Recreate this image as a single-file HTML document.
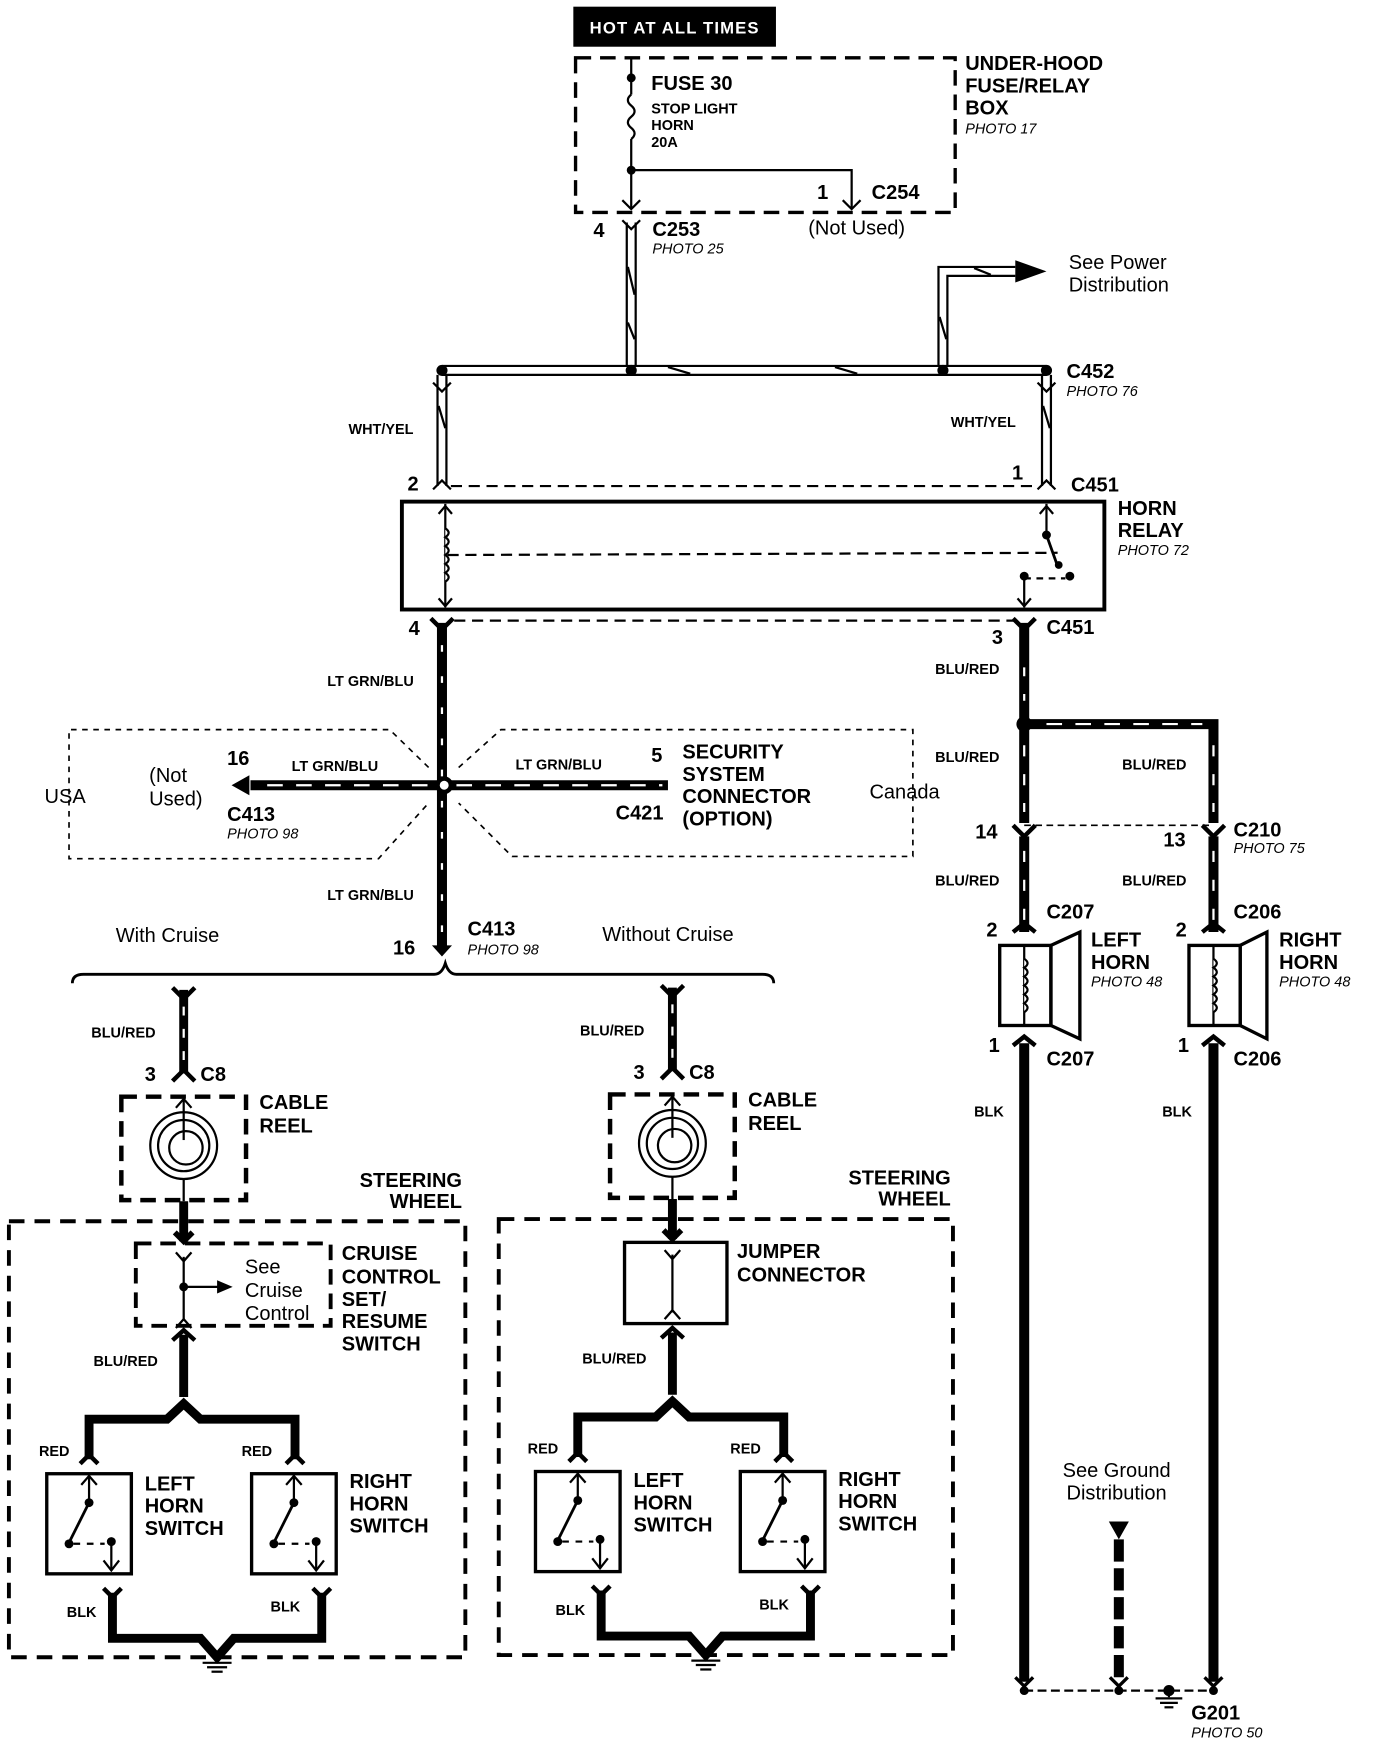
<!DOCTYPE html>
<html><head><meta charset="utf-8"><style>
html,body{margin:0;padding:0;background:#fff}
svg{display:block}
text{font-family:"Liberation Sans",Arial,sans-serif;fill:#000}
.b{font-weight:bold}
.i{font-style:italic;font-size:13px}
.s{font-weight:bold;font-size:13px}
.L{font-weight:bold;font-size:18px}
.n{font-size:18px}
</style></head><body>
<svg width="1376" height="1744" viewBox="0 0 1236 1568" preserveAspectRatio="none" xmlns="http://www.w3.org/2000/svg">
<defs>
<g id="sw">
  <rect x="0" y="0" width="76" height="90" fill="none" stroke="#000" stroke-width="3"/>
  <line x1="38" y1="0" x2="38" y2="26" stroke="#000" stroke-width="2"/>
  <path d="M31,10 L38,2 L45,10" fill="none" stroke="#000" stroke-width="2"/>
  <circle cx="38" cy="26" r="4"/>
  <line x1="38" y1="26" x2="20" y2="62" stroke="#000" stroke-width="2.5"/>
  <circle cx="20" cy="63" r="4"/>
  <line x1="24" y1="63" x2="52" y2="63" stroke="#000" stroke-width="2" stroke-dasharray="6,6"/>
  <circle cx="58" cy="61" r="4"/>
  <line x1="58" y1="61" x2="58" y2="87" stroke="#000" stroke-width="2"/>
  <path d="M51,78 L58,87 L65,78" fill="none" stroke="#000" stroke-width="2"/>
</g>
<g id="sub">
  <line x1="165" y1="890" x2="165" y2="965" stroke="#000" stroke-width="8"/>
  <line x1="165" y1="905" x2="165" y2="955" stroke="#fff" stroke-width="2" stroke-dasharray="8,12"/>
  <path d="M155,888 L165,898 L175,888" fill="none" stroke="#000" stroke-width="4"/>
  <path d="M155,972 L165,962 L175,972" fill="none" stroke="#000" stroke-width="4"/>
  <text x="82" y="933" class="s">BLU/RED</text>
  <text x="130" y="972" class="L">3</text>
  <text x="180" y="972" class="L">C8</text>
  <rect x="109" y="986" width="112" height="93" fill="none" stroke="#000" stroke-width="4" stroke-dasharray="14,8"/>
  <line x1="165" y1="986" x2="165" y2="1025" stroke="#000" stroke-width="2"/>
  <path d="M158,996 L165,988 L172,996" fill="none" stroke="#000" stroke-width="2"/>
  <circle cx="165" cy="1030" r="30" fill="none" stroke="#000" stroke-width="2"/>
  <circle cx="165" cy="1030" r="23" fill="none" stroke="#000" stroke-width="2"/>
  <circle cx="167" cy="1032" r="15" fill="none" stroke="#000" stroke-width="2"/>
  <line x1="165" y1="1060" x2="165" y2="1080" stroke="#000" stroke-width="2"/>
  <text x="233" y="997" class="L">CABLE</text>
  <text x="233" y="1018" class="L">REEL</text>
  <line x1="165" y1="1080" x2="165" y2="1116" stroke="#000" stroke-width="8"/>
  <path d="M157,1108 L165,1116 L173,1108" fill="none" stroke="#000" stroke-width="5"/>
  <line x1="165" y1="1200" x2="165" y2="1256" stroke="#000" stroke-width="8"/>
  <path d="M155,1205 L165,1196 L175,1205" fill="none" stroke="#000" stroke-width="4"/>
  <text x="84" y="1228" class="s">BLU/RED</text>
  <path d="M80,1312 L80,1276 L150,1276 L165,1262 L180,1276 L265,1276 L265,1312" fill="none" stroke="#000" stroke-width="8"/>
  <path d="M72,1316 L80,1308 L88,1316" fill="none" stroke="#000" stroke-width="4"/>
  <path d="M257,1316 L265,1308 L273,1316" fill="none" stroke="#000" stroke-width="4"/>
  <text x="35" y="1309" class="s">RED</text>
  <text x="217" y="1309" class="s">RED</text>
  <use href="#sw" x="42" y="1325"/>
  <use href="#sw" x="226" y="1325"/>
  <path d="M101,1432 L101,1473 L180,1473 L195,1490 L210,1473 L289,1473 L289,1432" fill="none" stroke="#000" stroke-width="8"/>
  <path d="M93,1428 L101,1436 L109,1428" fill="none" stroke="#000" stroke-width="4"/>
  <path d="M281,1428 L289,1436 L297,1428" fill="none" stroke="#000" stroke-width="4"/>
  <text x="60" y="1454" class="s">BLK</text>
  <text x="243" y="1449" class="s">BLK</text>
  <line x1="182" y1="1495" x2="208" y2="1495" stroke="#000" stroke-width="2"/>
  <line x1="186" y1="1499" x2="204" y2="1499" stroke="#000" stroke-width="2"/>
  <line x1="190" y1="1503" x2="200" y2="1503" stroke="#000" stroke-width="2"/>
</g>
</defs>

<rect x="515" y="6" width="182" height="36" fill="#000"/>
<text x="606" y="30" text-anchor="middle" class="b" style="fill:#fff;font-size:15px;letter-spacing:1px">HOT AT ALL TIMES</text>
<rect x="517" y="52" width="341" height="139" fill="none" stroke="#000" stroke-width="3" stroke-dasharray="14,8"/>
<line x1="567" y1="52" x2="567" y2="85" stroke="#000" stroke-width="2"/>
<circle cx="567" cy="70" r="4"/>
<path d="M567,85 q-6,5 0,10 q6,5 0,10 q-6,5 0,10 q6,5 0,10" fill="none" stroke="#000" stroke-width="2"/>
<line x1="567" y1="125" x2="567" y2="188" stroke="#000" stroke-width="2"/>
<circle cx="567" cy="153" r="4"/>
<path d="M567,153 L765,153 L765,187" fill="none" stroke="#000" stroke-width="2"/>
<path d="M559,180 L567,188 L575,180 M757,180 L765,188 L773,180" fill="none" stroke="#000" stroke-width="2"/>
<text x="585" y="81" class="L">FUSE 30</text>
<text x="585" y="102" class="s">STOP LIGHT</text>
<text x="585" y="117" class="s">HORN</text>
<text x="585" y="132" class="s">20A</text>
<text x="734" y="179" class="L">1</text>
<text x="783" y="179" class="L">C254</text>
<text x="867" y="63" class="L">UNDER-HOOD</text>
<text x="867" y="83" class="L">FUSE/RELAY</text>
<text x="867" y="103" class="L">BOX</text>
<text x="867" y="120" class="i">PHOTO 17</text>
<text x="533" y="213" class="L">4</text>
<text x="586" y="212" class="L">C253</text>
<text x="586" y="228" class="i">PHOTO 25</text>
<text x="726" y="211" class="n">(Not Used)</text>

<g fill="none" stroke="#000" stroke-width="2">
  <path d="M563,200 L563,330 M571,200 L571,330"/>
  <path d="M559,198 L567,206 L575,198"/>
  <path d="M843,330 L843,240 L912,240 M851,330 L851,248 L912,248"/>
  <path d="M393,337 L393,437 M401,337 L401,437"/>
  <path d="M936,337 L936,437 M944,337 L944,437"/>
  <path d="M397,329 L940,329 M397,337 L940,337"/>
  <path d="M389,344 L397,352 L405,344 M932,344 L940,352 L948,344"/>
  <path d="M389,440 L397,432 L405,440 M932,440 L940,432 L948,440"/>
</g>
<g stroke="#000" stroke-width="2">
  <line x1="564" y1="240" x2="570" y2="265"/><line x1="564" y1="290" x2="570" y2="305"/>
  <line x1="844" y1="285" x2="850" y2="305"/><line x1="875" y1="241" x2="890" y2="247"/>
  <line x1="394" y1="365" x2="400" y2="385"/><line x1="937" y1="365" x2="943" y2="385"/>
  <line x1="600" y1="330" x2="620" y2="336"/><line x1="750" y1="330" x2="770" y2="336"/>
</g>
<polygon points="912,234 940,244 912,254" fill="#000"/>
<text x="960" y="242" class="n">See Power</text>
<text x="960" y="262" class="n">Distribution</text>
<circle cx="397" cy="333" r="5"/><circle cx="567" cy="333" r="5"/><circle cx="847" cy="333" r="5"/><circle cx="940" cy="333" r="5"/>
<text x="958" y="340" class="L">C452</text>
<text x="958" y="356" class="i">PHOTO 76</text>
<text x="313" y="390" class="s">WHT/YEL</text>
<text x="854" y="384" class="s">WHT/YEL</text>
<line x1="405" y1="437" x2="932" y2="437" stroke="#000" stroke-width="2" stroke-dasharray="10,6"/>
<text x="366" y="441" class="L">2</text>
<text x="909" y="431" class="L">1</text>
<text x="962" y="442" class="L">C451</text>

<rect x="361" y="451" width="631" height="97" fill="none" stroke="#000" stroke-width="3.5"/>
<line x1="400" y1="453" x2="400" y2="546" stroke="#000" stroke-width="2"/>
<path d="M394,462 L400,455 L406,462 M394,538 L400,545 L406,538" fill="none" stroke="#000" stroke-width="2"/>
<path d="M400,475 q6,4 0,8 q6,4 0,8 q6,4 0,8 q6,4 0,8 q6,4 0,8 q6,4 0,8" fill="#fff" stroke="#000" stroke-width="2"/>
<line x1="402" y1="499" x2="950" y2="497" stroke="#000" stroke-width="2" stroke-dasharray="10,6"/>
<line x1="940" y1="453" x2="940" y2="480" stroke="#000" stroke-width="2"/>
<path d="M934,462 L940,455 L946,462" fill="none" stroke="#000" stroke-width="2"/>
<circle cx="940" cy="481" r="4"/>
<line x1="940" y1="481" x2="950" y2="509" stroke="#000" stroke-width="2.5"/>
<circle cx="951" cy="508" r="3.5"/><circle cx="961" cy="518" r="4"/>
<line x1="920" y1="520" x2="957" y2="520" stroke="#000" stroke-width="2" stroke-dasharray="6,5"/>
<circle cx="920" cy="518" r="4"/>
<line x1="920" y1="518" x2="920" y2="546" stroke="#000" stroke-width="2"/>
<path d="M914,538 L920,545 L926,538" fill="none" stroke="#000" stroke-width="2"/>
<text x="1004" y="463" class="L">HORN</text>
<text x="1004" y="483" class="L">RELAY</text>
<text x="1004" y="499" class="i">PHOTO 72</text>
<line x1="408" y1="558" x2="912" y2="558" stroke="#000" stroke-width="2" stroke-dasharray="10,6"/>
<text x="367" y="571" class="L">4</text>
<text x="891" y="579" class="L">3</text>
<text x="940" y="570" class="L">C451</text>

<line x1="397" y1="560" x2="397" y2="852" stroke="#000" stroke-width="9"/>
<line x1="397" y1="580" x2="397" y2="845" stroke="#fff" stroke-width="2" stroke-dasharray="6,22"/>
<path d="M387,556 L397,566 L407,556" fill="none" stroke="#000" stroke-width="4"/>
<polygon points="388,850 406,850 397,860" fill="#000"/>
<text x="294" y="617" class="s">LT GRN/BLU</text>
<text x="294" y="809" class="s">LT GRN/BLU</text>
<line x1="225" y1="706" x2="397" y2="706" stroke="#000" stroke-width="9"/>
<line x1="240" y1="706" x2="390" y2="706" stroke="#fff" stroke-width="2" stroke-dasharray="14,12"/>
<polygon points="208,706 224,697 224,715" fill="#000"/>
<line x1="397" y1="706" x2="600" y2="706" stroke="#000" stroke-width="9"/>
<line x1="410" y1="706" x2="595" y2="706" stroke="#fff" stroke-width="2" stroke-dasharray="14,12"/>
<circle cx="399" cy="706" r="8" fill="#000"/><circle cx="399" cy="706" r="4" fill="#fff"/>
<text x="262" y="693" class="s">LT GRN/BLU</text>
<text x="463" y="692" class="s">LT GRN/BLU</text>
<text x="204" y="688" class="L">16</text>
<text x="204" y="738" class="L">C413</text>
<text x="204" y="754" class="i">PHOTO 98</text>
<text x="585" y="685" class="L">5</text>
<text x="553" y="737" class="L">C421</text>
<text x="613" y="682" class="L">SECURITY</text>
<text x="613" y="702" class="L">SYSTEM</text>
<text x="613" y="722" class="L">CONNECTOR</text>
<text x="613" y="742" class="L">(OPTION)</text>
<text x="40" y="722" class="n">USA</text>
<text x="134" y="703" class="n">(Not</text>
<text x="134" y="724" class="n">Used)</text>
<text x="781" y="718" class="n">Canada</text>
<polyline points="385,690 350,656 62,656 62,772 340,772 385,722" fill="none" stroke="#000" stroke-width="1.5" stroke-dasharray="5,5"/>
<polyline points="412,690 450,656 820,656 820,770 460,770 412,722" fill="none" stroke="#000" stroke-width="1.5" stroke-dasharray="5,5"/>
<text x="420" y="841" class="L">C413</text>
<text x="420" y="858" class="i">PHOTO 98</text>
<text x="353" y="858" class="L">16</text>
<text x="104" y="847" class="n">With Cruise</text>
<text x="541" y="846" class="n">Without Cruise</text>
<path d="M65,884 Q65,876 75,876 L390,876 Q397,876 400,866 Q403,876 410,876 L685,876 Q695,876 695,884" fill="none" stroke="#000" stroke-width="2.5"/>

<use href="#sub"/>
<rect x="8" y="1098" width="410" height="392" fill="none" stroke="#000" stroke-width="3.5" stroke-dasharray="14,9"/>
<text x="415" y="1067" text-anchor="end" class="L">STEERING</text>
<text x="415" y="1086" text-anchor="end" class="L">WHEEL</text>
<rect x="122" y="1118" width="175" height="74" fill="none" stroke="#000" stroke-width="3.5" stroke-dasharray="14,8"/>
<line x1="165" y1="1130" x2="165" y2="1186" stroke="#000" stroke-width="2"/>
<path d="M158,1126 L165,1134 L172,1126 M158,1194 L165,1186 L172,1194" fill="none" stroke="#000" stroke-width="2"/>
<circle cx="165" cy="1157" r="4"/>
<line x1="165" y1="1157" x2="196" y2="1157" stroke="#000" stroke-width="2"/>
<polygon points="195,1151 209,1157 195,1163" fill="#000"/>
<text x="220" y="1145" class="n">See</text>
<text x="220" y="1166" class="n">Cruise</text>
<text x="220" y="1187" class="n">Control</text>
<text x="307" y="1133" class="L">CRUISE</text>
<text x="307" y="1154" class="L">CONTROL</text>
<text x="307" y="1174" class="L">SET/</text>
<text x="307" y="1194" class="L">RESUME</text>
<text x="307" y="1214" class="L">SWITCH</text>
<text x="130" y="1340" class="L">LEFT</text>
<text x="130" y="1360" class="L">HORN</text>
<text x="130" y="1380" class="L">SWITCH</text>
<text x="314" y="1338" class="L">RIGHT</text>
<text x="314" y="1358" class="L">HORN</text>
<text x="314" y="1378" class="L">SWITCH</text>

<g transform="translate(439,-2)"><use href="#sub"/></g>
<rect x="448" y="1096" width="408" height="392" fill="none" stroke="#000" stroke-width="3.5" stroke-dasharray="14,9"/>
<text x="854" y="1065" text-anchor="end" class="L">STEERING</text>
<text x="854" y="1084" text-anchor="end" class="L">WHEEL</text>
<rect x="561" y="1117" width="92" height="73" fill="#fff" stroke="#000" stroke-width="3"/>
<line x1="604" y1="1128" x2="604" y2="1180" stroke="#000" stroke-width="2"/>
<path d="M597,1124 L604,1132 L611,1124 M597,1186 L604,1178 L611,1186" fill="none" stroke="#000" stroke-width="2"/>
<text x="662" y="1131" class="L">JUMPER</text>
<text x="662" y="1152" class="L">CONNECTOR</text>
<text x="569" y="1337" class="L">LEFT</text>
<text x="569" y="1357" class="L">HORN</text>
<text x="569" y="1377" class="L">SWITCH</text>
<text x="753" y="1336" class="L">RIGHT</text>
<text x="753" y="1356" class="L">HORN</text>
<text x="753" y="1376" class="L">SWITCH</text>

<g stroke="#000" fill="none">
  <line x1="920" y1="560" x2="920" y2="740" stroke-width="9"/>
  <path d="M920,651 L1090,651 L1090,740" stroke-width="9"/>
  <line x1="920" y1="752" x2="920" y2="838" stroke-width="9"/>
  <line x1="1090" y1="752" x2="1090" y2="838" stroke-width="9"/>
  <line x1="920" y1="938" x2="920" y2="1512" stroke-width="9"/>
  <line x1="1090" y1="938" x2="1090" y2="1512" stroke-width="9"/>
  <line x1="920" y1="742" x2="1090" y2="742" stroke-width="1.5" stroke-dasharray="6,4"/>
  <path d="M910,742 L920,752 L930,742 M1080,742 L1090,752 L1100,742 M910,838 L920,830 L930,838 M1080,838 L1090,830 L1100,838 M910,940 L920,932 L930,940 M1080,940 L1090,932 L1100,940" stroke-width="4"/>
  <path d="M910,556 L920,566 L930,556" stroke-width="4"/>
</g>
<g stroke="#fff" stroke-width="2">
  <line x1="920" y1="600" x2="920" y2="630" stroke-dasharray="8,16"/>
  <line x1="940" y1="651" x2="1080" y2="651" stroke-dasharray="14,12"/>
  <line x1="1090" y1="670" x2="1090" y2="730" stroke-dasharray="10,16"/>
  <line x1="920" y1="670" x2="920" y2="730" stroke-dasharray="10,16"/>
  <line x1="920" y1="765" x2="920" y2="830" stroke-dasharray="10,16"/>
  <line x1="1090" y1="765" x2="1090" y2="830" stroke-dasharray="10,16"/>
</g>
<circle cx="920" cy="651" r="7"/>
<text x="840" y="606" class="s">BLU/RED</text>
<text x="840" y="685" class="s">BLU/RED</text>
<text x="1008" y="692" class="s">BLU/RED</text>
<text x="840" y="796" class="s">BLU/RED</text>
<text x="1008" y="796" class="s">BLU/RED</text>
<text x="876" y="754" class="L">14</text>
<text x="1045" y="761" class="L">13</text>
<text x="1108" y="752" class="L">C210</text>
<text x="1108" y="767" class="i">PHOTO 75</text>
<g>
  <rect x="898" y="850" width="46" height="72" fill="none" stroke="#000" stroke-width="3"/>
  <polygon points="944,850 970,838 970,934 944,922" fill="none" stroke="#000" stroke-width="3"/>
  <line x1="920" y1="850" x2="920" y2="922" stroke="#000" stroke-width="2"/>
  <path d="M920,862 q6,4 0,8 q6,4 0,8 q6,4 0,8 q6,4 0,8 q6,4 0,8 q6,4 0,8" fill="#fff" stroke="#000" stroke-width="2"/>
  <rect x="1068" y="850" width="46" height="72" fill="none" stroke="#000" stroke-width="3"/>
  <polygon points="1114,850 1138,838 1138,934 1114,922" fill="none" stroke="#000" stroke-width="3"/>
  <line x1="1090" y1="850" x2="1090" y2="922" stroke="#000" stroke-width="2"/>
  <path d="M1090,862 q6,4 0,8 q6,4 0,8 q6,4 0,8 q6,4 0,8 q6,4 0,8 q6,4 0,8" fill="#fff" stroke="#000" stroke-width="2"/>
</g>
<text x="886" y="842" class="L">2</text>
<text x="940" y="826" class="L">C207</text>
<text x="1056" y="842" class="L">2</text>
<text x="1108" y="826" class="L">C206</text>
<text x="980" y="851" class="L">LEFT</text>
<text x="980" y="871" class="L">HORN</text>
<text x="980" y="887" class="i">PHOTO 48</text>
<text x="1149" y="851" class="L">RIGHT</text>
<text x="1149" y="871" class="L">HORN</text>
<text x="1149" y="887" class="i">PHOTO 48</text>
<text x="888" y="946" class="L">1</text>
<text x="940" y="958" class="L">C207</text>
<text x="1058" y="946" class="L">1</text>
<text x="1108" y="958" class="L">C206</text>
<text x="875" y="1004" class="s">BLK</text>
<text x="1044" y="1004" class="s">BLK</text>
<text x="1003" y="1328" text-anchor="middle" class="n">See Ground</text>
<text x="1003" y="1348" text-anchor="middle" class="n">Distribution</text>
<polygon points="996,1368 1014,1368 1005,1384" fill="#000"/>
<line x1="1005" y1="1384" x2="1005" y2="1512" stroke="#000" stroke-width="9" stroke-dasharray="20,6"/>
<line x1="920" y1="1520" x2="1090" y2="1520" stroke="#000" stroke-width="2" stroke-dasharray="8,4"/>
<path d="M912,1508 L920,1516 L928,1508 M997,1508 L1005,1516 L1013,1508 M1082,1508 L1090,1516 L1098,1508" fill="none" stroke="#000" stroke-width="3"/>
<circle cx="920" cy="1520" r="4"/><circle cx="1005" cy="1520" r="4"/><circle cx="1090" cy="1520" r="4"/><circle cx="1050" cy="1520" r="5"/>
<line x1="1050" y1="1520" x2="1050" y2="1526" stroke="#000" stroke-width="2"/>
<line x1="1038" y1="1527" x2="1062" y2="1527" stroke="#000" stroke-width="2"/>
<line x1="1042" y1="1531" x2="1058" y2="1531" stroke="#000" stroke-width="2"/>
<line x1="1046" y1="1535" x2="1054" y2="1535" stroke="#000" stroke-width="2"/>
<text x="1070" y="1546" class="L">G201</text>
<text x="1070" y="1562" class="i">PHOTO 50</text>
</svg>
</body></html>
